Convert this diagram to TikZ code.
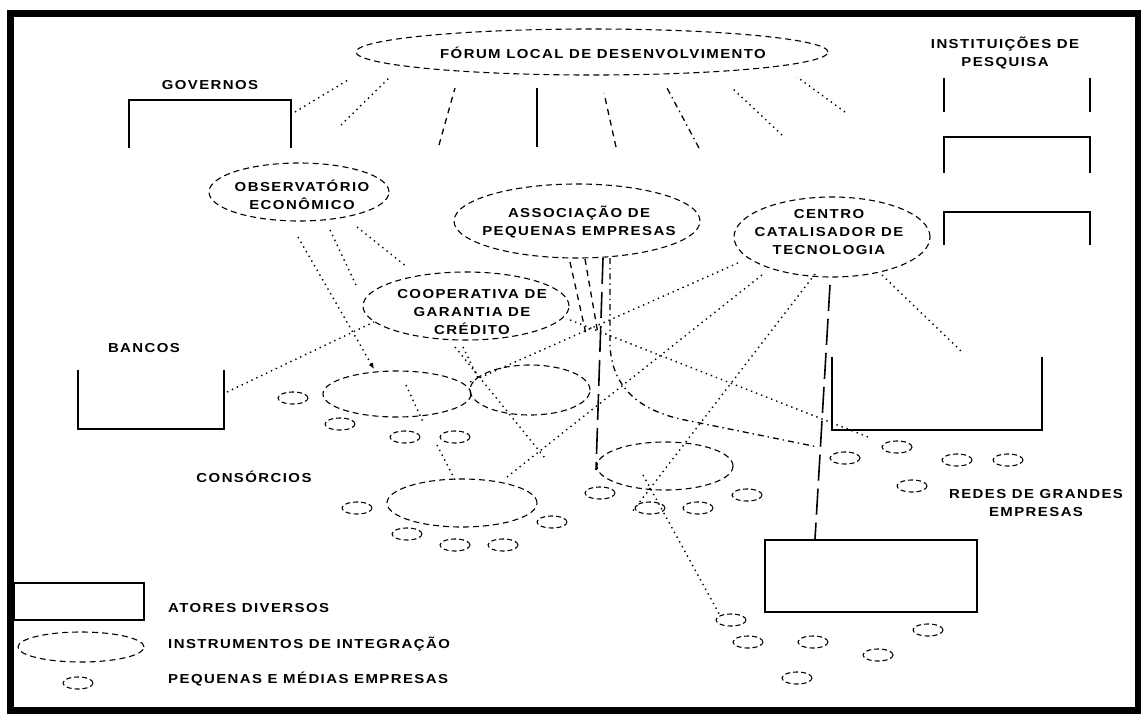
\documentclass[tikz,border=0pt]{standalone}
\usepackage{fontspec}
\setmainfont{Liberation Sans}[FakeStretch=1.15,LetterSpace=11]
\usetikzlibrary{shapes.geometric,arrows.meta}
\begin{document}
\begin{tikzpicture}[x=1pt,y=-1pt,
  lbl/.style={font=\fontsize{13}{18}\selectfont\bfseries, align=center, inner sep=0pt},
  bigell/.style={ellipse, draw, line width=1.1pt, dash pattern=on 6pt off 4pt, inner sep=0pt},
  pme/.style={ellipse, draw, line width=1.1pt, dash pattern=on 5pt off 3pt, minimum width=30pt, minimum height=12pt, inner sep=0pt},
  hold/.style={draw=none, inner sep=0pt, rectangle},
  bx/.style={line width=1.6pt},
  rbox/.style={draw, line width=1.6pt, inner sep=0pt, rectangle},
  dotc/.style={line width=1.4pt, dash pattern=on 1.4pt off 4pt},
  dashc/.style={line width=1.3pt, dash pattern=on 6pt off 5pt},
  dashdotc/.style={line width=1.3pt, dash pattern=on 6pt off 4pt on 1.4pt off 4pt},
  longdash/.style={line width=1.6pt, dash pattern=on 26pt off 8pt},
  solidc/.style={line width=1.4pt}]
\useasboundingbox (0,0) rectangle (1141,713);
\fill[white] (0,0) rectangle (1141,713);
\draw[line width=7pt] (10.5,13.5) rectangle (1138,710);

% ---- actors (boxes)
\node[hold, minimum width=162pt, minimum height=48pt] (gov) at (210,124) {};
\draw[bx] (gov.south west) |- (gov.north east) -- (gov.south east);
\node[hold, minimum width=146pt, minimum height=59pt] (bank) at (151,399.5) {};
\draw[bx] (bank.north west) |- (bank.south east) -- (bank.north east);
\node[hold, minimum width=210pt, minimum height=73pt] (redes) at (937,393.5) {};
\draw[bx] (redes.north west) |- (redes.south east) -- (redes.north east);
\node[hold, minimum width=146pt, minimum height=34pt] (inst1) at (1017,95) {};
\draw[bx] (inst1.north west) -- (inst1.south west);
\draw[bx] (inst1.north east) -- (inst1.south east);
\node[hold, minimum width=146pt, minimum height=36pt] (inst2) at (1017,155) {};
\draw[bx] (inst2.south west) |- (inst2.north east) -- (inst2.south east);
\node[hold, minimum width=146pt, minimum height=33pt] (inst3) at (1017,228.5) {};
\draw[bx] (inst3.south west) |- (inst3.north east) -- (inst3.south east);
\node[rbox, minimum width=212pt, minimum height=72pt] (big) at (871,576) {};

% ---- instruments (big ellipses)
\node[bigell, minimum width=472pt, minimum height=46pt] (forum) at (592,52) {};
\node[lbl] (forumt) at (603,53) {FÓRUM LOCAL DE DESENVOLVIMENTO};
\node[bigell, minimum width=180pt, minimum height=58pt] (obs) at (299,192) {};
\node[lbl] (obst) at (302,195) {OBSERVATÓRIO\\ECONÔMICO};
\node[bigell, minimum width=246pt, minimum height=74pt] (assoc) at (577,221) {};
\node[lbl] (assoct) at (579,222) {ASSOCIAÇÃO DE\\PEQUENAS EMPRESAS};
\node[bigell, minimum width=196pt, minimum height=80pt] (centro) at (832,237) {};
\node[lbl] (centrot) at (829,232) {CENTRO\\CATALISADOR DE\\TECNOLOGIA};
\node[bigell, minimum width=206pt, minimum height=68pt] (coop) at (466,306) {};
\node[lbl] (coopt) at (472,312) {COOPERATIVA DE\\GARANTIA DE\\CRÉDITO};
\node[bigell, minimum width=148pt, minimum height=46pt] (cons1) at (397,394) {};
\node[bigell, minimum width=120pt, minimum height=50pt] (cons2) at (530,390) {};
\node[bigell, minimum width=150pt, minimum height=48pt] (cons3) at (462,503) {};
\node[bigell, minimum width=136pt, minimum height=48pt] (cons4) at (665,466) {};

% ---- labels
\node[lbl] (govt) at (210,85) {GOVERNOS};
\node[lbl] (instt) at (1005,53) {INSTITUIÇÕES DE\\PESQUISA};
\node[lbl] (bancost) at (144,348) {BANCOS};
\node[lbl] (const) at (254,477) {CONSÓRCIOS};
\node[lbl] (redest) at (1036,503) {REDES DE GRANDES\\EMPRESAS};

% ---- small firms
\foreach \n/\x/\y in {p1/293/398,p2/340/424,p3/405/437,p4/455/437,p5/357/508,p6/407/534,
  p7/455/545,p8/503/545,p9/552/522,p10/600/493,p11/650/508,p12/698/508,p13/747/495,
  p14/845/458,p15/897/447,p16/957/460,p17/1008/460,p18/912/486,p19/731/620,p20/748/642,
  p21/813/642,p22/878/655,p23/928/630,p24/797/678}
  \node[pme] (\n) at (\x,\y) {};

% ---- connector end points
\coordinate (s1a) at (295,112); \coordinate (s1b) at (348,80);
\coordinate (s2a) at (341,125); \coordinate (s2b) at (389,78);
\coordinate (s3a) at (439,145); \coordinate (s3b) at (455,88);
\coordinate (s4a) at (537,147); \coordinate (s4b) at (537,88);
\coordinate (s5a) at (616,147); \coordinate (s5b) at (604,93);
\coordinate (s6a) at (699,148); \coordinate (s6b) at (667,88);
\coordinate (s7a) at (782,135); \coordinate (s7b) at (732,88);
\coordinate (s8a) at (845,112); \coordinate (s8b) at (797,77);

\coordinate (o1a) at (298,237); \coordinate (o1b) at (374,369);
\coordinate (o2a) at (330,230); \coordinate (o2b) at (356,285);
\coordinate (o3a) at (357,227); \coordinate (o3b) at (407,267);

\coordinate (c1a) at (227,392); \coordinate (c1b) at (374,322);
\coordinate (c2a) at (463,347); \coordinate (c2b) at (478,378);
\coordinate (c3a) at (570,320); \coordinate (c3b) at (868,437);
\coordinate (c4a) at (455,347); \coordinate (c4b) at (545,458);

\coordinate (a1a) at (610,258); \coordinate (a1b) at (818,447);
\coordinate (a2a) at (603,258); \coordinate (a2b) at (596,470);
\coordinate (a3a) at (570,262); \coordinate (a3b) at (586,334);
\coordinate (a4a) at (585,259); \coordinate (a4b) at (598,334);

\coordinate (t1a) at (738,263); \coordinate (t1b) at (470,382);
\coordinate (t2a) at (762,275); \coordinate (t2b) at (507,477);
\coordinate (t3a) at (815,274); \coordinate (t3b) at (632,512);
\coordinate (t4a) at (882,275); \coordinate (t4b) at (962,352);
\coordinate (t5a) at (830,285);

\coordinate (k1a) at (643,475); \coordinate (k1b) at (p19.north west);
\coordinate (k2a) at (437,445); \coordinate (k2b) at (455,480);
\coordinate (k3a) at (406,385); \coordinate (k3b) at (424,424);

% ---- connectors
\draw[dotc] (s1a) -- (s1b);
\draw[dotc] (s2a) -- (s2b);
\draw[dashc] (s3a) -- (s3b);
\draw[solidc] (s4a) -- (s4b);
\draw[dashc] (s5a) -- (s5b);
\draw[dashdotc] (s6a) -- (s6b);
\draw[dotc] (s7a) -- (s7b);
\draw[dotc] (s8a) -- (s8b);

\draw[dotc, -{Latex[length=6pt,width=5pt]}] (o1a) -- (o1b);
\draw[dotc] (o2a) -- (o2b);
\draw[dotc] (o3a) -- (o3b);

\draw[dotc] (c1a) -- (c1b);
\draw[dotc] (c2a) -- (c2b);
\draw[dotc] (c3a) -- (c3b);
\draw[dotc] (c4a) -- (c4b);

\draw[dashdotc] (a1a) -- (610,345) .. controls (612,395) and (650,414) .. (690,421) -- (a1b);
\draw[longdash] (a2a) -- (a2b);
\draw[dashc] (a3a) -- (a3b);
\draw[dashc] (a4a) -- (a4b);

\draw[dotc] (t1a) -- (t1b);
\draw[dotc] (t2a) -- (t2b);
\draw[dotc] (t3a) -- (t3b);
\draw[dotc] (t4a) -- (t4b);
\draw[longdash] (t5a) -- (big.north west -| 815,0);

\draw[dotc] (k1a) -- (k1b);
\draw[dotc] (k2a) -- (k2b);
\draw[dotc] (k3a) -- (k3b);

% ---- legend
\node[rbox, minimum width=130pt, minimum height=37pt] (lgbox) at (79,601.5) {};
\node[bigell, minimum width=126pt, minimum height=30pt] (lgell) at (81,647) {};
\node[pme] (lgpme) at (78,683) {};
\node[lbl, anchor=west] (lg1) at (168,608) {ATORES DIVERSOS};
\node[lbl, anchor=west] (lg2) at (168,644) {INSTRUMENTOS DE INTEGRAÇÃO};
\node[lbl, anchor=west] (lg3) at (168,679) {PEQUENAS E MÉDIAS EMPRESAS};
\end{tikzpicture}
\end{document}
